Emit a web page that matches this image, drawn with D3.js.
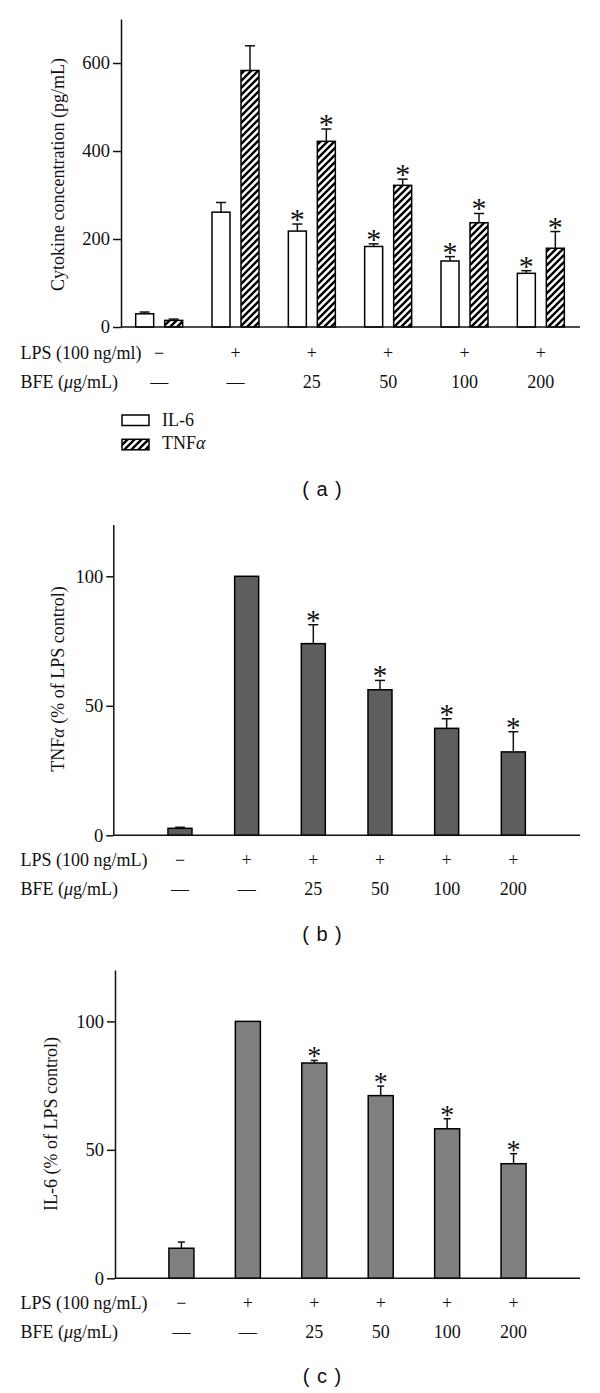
<!DOCTYPE html>
<html><head><meta charset="utf-8">
<script src="https://cdn.jsdelivr.net/npm/d3@7"></script>
<style>
body{margin:0;background:#fff}
svg{display:block}
text{font-family:"Liberation Serif","Times New Roman",serif;fill:#111}
</style>
</head><body>
<svg id="chart" width="600" height="1393"></svg>
<script>
// ---------- data ----------
const categories = ["Control", "LPS", "LPS+BFE25", "LPS+BFE50", "LPS+BFE100", "LPS+BFE200"];
const lpsRow = ["\u2212", "+", "+", "+", "+", "+"];
const bfeRow = ["\u2014", "\u2014", "25", "50", "100", "200"];
const significant = [false, false, true, true, true, true];

// (a) cytokine concentration (pg/mL)
const il6Conc = [30, 261, 218, 183, 150, 122];
const il6ConcErr = [4, 22, 16, 6, 10, 6];
const tnfConc = [15, 583, 422, 322, 237, 179];
const tnfConcErr = [3, 56, 28, 14, 21, 38];
const concTicks = [0, 200, 400, 600];

// (b) TNFα (% of LPS control)
const tnfPct = [2.7, 100, 74, 56.2, 41.3, 32.2];
const tnfPctErr = [0.4, 0, 7.3, 3.6, 3.7, 7.8];
// (c) IL-6 (% of LPS control)
const il6Pct = [11.7, 100, 83.8, 71.1, 58.2, 44.6];
const il6PctErr = [2.4, 0, 1.0, 3.7, 3.9, 3.9];
const pctTicks = [0, 50, 100];

const seriesKeys = ["IL-6", "TNFα"];

// ---------- drawing ----------
const svg = d3.select("#chart");
const defs = svg.append("defs");
defs.append("pattern")
  .attr("id", "hatch").attr("patternUnits", "userSpaceOnUse")
  .attr("width", 7).attr("height", 7)
  .append("path")
  .attr("d", "M-2,2 L2,-2 M0,7 L7,0 M5,9 L9,5")
  .attr("stroke", "#000").attr("stroke-width", 2.4);

function yAxis(g, y, ticks, x0, tickLen) {
  const ax = g.append("g").attr("transform", `translate(${x0},0)`)
    .call(d3.axisLeft(y).tickValues(ticks).tickSize(tickLen).tickSizeOuter(0).tickPadding(3).tickFormat(d3.format("d")));
  ax.select(".domain").attr("stroke", "#111").attr("stroke-width", 1.5);
  ax.selectAll(".tick line").attr("stroke", "#111").attr("stroke-width", 1.5);
  ax.selectAll(".tick text").attr("font-family", '"Liberation Serif",serif').attr("font-size", 18.5).attr("fill", "#111");
}

function yTitle(g, x, yc, parts) {
  const t = g.append("text").attr("transform", `translate(${x},${yc}) rotate(-90)`)
    .attr("text-anchor", "middle").attr("font-size", 18);
  parts.forEach(p => t.append("tspan").text(p[0]).attr("font-style", p[1] ? "italic" : null));
}

function rowLabels(g, xPos, lpsText, yLps, yBfe) {
  g.append("text").attr("x", 20.5).attr("y", yLps).attr("font-size", 18).text(lpsText);
  const b = g.append("text").attr("x", 20.5).attr("y", yBfe).attr("font-size", 18);
  b.append("tspan").text("BFE (");
  b.append("tspan").attr("font-style", "italic").text("μ");
  b.append("tspan").text("g/mL)");
  g.selectAll(".lps").data(categories).join("text").attr("class", "lps")
    .attr("x", d => xPos(d)).attr("y", yLps).attr("text-anchor", "middle").attr("font-size", 18)
    .text((d, i) => lpsRow[i]);
  g.selectAll(".bfe").data(categories).join("text").attr("class", "bfe")
    .attr("x", d => xPos(d)).attr("y", yBfe).attr("text-anchor", "middle").attr("font-size", 18)
    .text((d, i) => bfeRow[i]);
}

function panelLabel(g, txt, yb) {
  g.append("text").attr("x", 322.5).attr("y", yb).attr("text-anchor", "middle")
    .attr("font-size", 20).attr("letter-spacing", 1)
    .style("font-family", '"Liberation Sans",Arial,sans-serif').text(txt);
}

function errBars(g, cx, y, vals, errs, cap, sw) {
  vals.forEach((v, i) => {
    if (!errs[i]) return;
    const x = cx(i);
    g.append("line").attr("x1", x).attr("x2", x).attr("y1", y(v)).attr("y2", y(v + errs[i]))
      .attr("stroke", "#111").attr("stroke-width", sw);
    g.append("line").attr("x1", x - cap / 2).attr("x2", x + cap / 2).attr("y1", y(v + errs[i])).attr("y2", y(v + errs[i]))
      .attr("stroke", "#111").attr("stroke-width", sw);
  });
}

function stars(g, cx, y, vals, errs, off, size) {
  vals.forEach((v, i) => {
    if (!significant[i]) return;
    g.append("text").attr("x", cx(i)).attr("y", y(v + errs[i]) + off)
      .attr("text-anchor", "middle").attr("font-size", size).text("*");
  });
}

// ===== Panel (a) =====
{
  const g = svg.append("g");
  const y = d3.scaleLinear().domain([0, 700]).range([327, 19]);
  const x = d3.scaleBand().domain(categories).range([121, 579]).padding(0);
  const xs = d3.scaleBand().domain(seriesKeys).range([0, 47]).paddingInner(11 / 29).paddingOuter(0);
  const gx = d => x(d) + (x.bandwidth() - 47) / 2;

  const series = [
    {key: "IL-6", vals: il6Conc, errs: il6ConcErr, fill: "#fff"},
    {key: "TNFα", vals: tnfConc, errs: tnfConcErr, fill: "url(#hatch)"}
  ];
  series.forEach(s => {
    g.selectAll(null).data(categories).join("rect")
      .attr("x", d => gx(d) + xs(s.key)).attr("width", xs.bandwidth())
      .attr("y", (d, i) => y(s.vals[i])).attr("height", (d, i) => y(0) - y(s.vals[i]))
      .attr("fill", s.fill).attr("stroke", "#000").attr("stroke-width", 1.5);
    const cx = i => gx(categories[i]) + xs(s.key) + xs.bandwidth() / 2;
    errBars(g, cx, y, s.vals, s.errs, 10, 1.5);
    stars(g, cx, y, s.vals, s.errs, 5, 30);
  });
  yAxis(g, y, concTicks, 121, 8);
  g.append("line").attr("x1", 121).attr("x2", 580).attr("y1", y(0)).attr("y2", y(0)).attr("stroke", "#111").attr("stroke-width", 1.5);
  yTitle(g, 63.5, 174.5, [["Cytokine concentration (pg/mL)", false]]);
  rowLabels(g, d => x(d) + x.bandwidth() / 2, "LPS (100 ng/ml)", 359, 388);

  // legend
  const leg = g.append("g");
  series.forEach((s, i) => {
    const yy = [415, 439.3][i];
    leg.append("rect").attr("x", 122).attr("y", yy).attr("width", 27).attr("height", 10.5)
      .attr("fill", s.fill).attr("stroke", "#000").attr("stroke-width", 1.5);
  });
  leg.append("text").attr("x", 162).attr("y", 426).attr("font-size", 18).text("IL-6");
  const t2 = leg.append("text").attr("x", 162).attr("y", 448.5).attr("font-size", 18);
  t2.append("tspan").text("TNF");
  t2.append("tspan").attr("font-style", "italic").text("α");
  panelLabel(g, "( a )", 496);
}

// ===== Panel (b) =====
{
  const g = svg.append("g");
  const y = d3.scaleLinear().domain([0, 120]).range([835.3, 524.5]);
  const x = d3.scalePoint().domain(categories).range([113.3, 580]).padding(1);
  const w = 24;
  g.selectAll(null).data(categories).join("rect")
    .attr("x", d => x(d) - w / 2).attr("width", w)
    .attr("y", (d, i) => y(tnfPct[i])).attr("height", (d, i) => y(0) - y(tnfPct[i]))
    .attr("fill", "#5e5e5e").attr("stroke", "#000").attr("stroke-width", 1.5);
  const cx = i => x(categories[i]);
  errBars(g, cx, y, tnfPct, tnfPctErr, 10, 1.5);
  stars(g, cx, y, tnfPct, tnfPctErr, 5, 29);
  yAxis(g, y, pctTicks, 113.3, 7);
  g.append("line").attr("x1", 113.3).attr("x2", 580).attr("y1", y(0)).attr("y2", y(0)).attr("stroke", "#111").attr("stroke-width", 1.5);
  yTitle(g, 64, 679, [["TNF", false], ["α", true], [" (% of LPS control)", false]]);
  rowLabels(g, d => x(d), "LPS (100 ng/mL)", 865.5, 895);
  panelLabel(g, "( b )", 941);
}

// ===== Panel (c) =====
{
  const g = svg.append("g");
  const y = d3.scaleLinear().domain([0, 120]).range([1278.3, 970]);
  const x = d3.scalePoint().domain(categories).range([115, 580]).padding(1);
  const w = 25;
  g.selectAll(null).data(categories).join("rect")
    .attr("x", d => x(d) - w / 2).attr("width", w)
    .attr("y", (d, i) => y(il6Pct[i])).attr("height", (d, i) => y(0) - y(il6Pct[i]))
    .attr("fill", "#808080").attr("stroke", "#000").attr("stroke-width", 1.5);
  const cx = i => x(categories[i]);
  errBars(g, cx, y, il6Pct, il6PctErr, 7, 1.5);
  stars(g, cx, y, il6Pct, il6PctErr, 5, 28);
  yAxis(g, y, pctTicks, 115, 8);
  g.append("line").attr("x1", 115).attr("x2", 580).attr("y1", y(0)).attr("y2", y(0)).attr("stroke", "#111").attr("stroke-width", 1.5);
  yTitle(g, 57.3, 1124, [["IL-6 (% of LPS control)", false]]);
  rowLabels(g, d => x(d), "LPS (100 ng/mL)", 1308.5, 1337.5);
  panelLabel(g, "( c )", 1382.5);
}
</script>
</body></html>
